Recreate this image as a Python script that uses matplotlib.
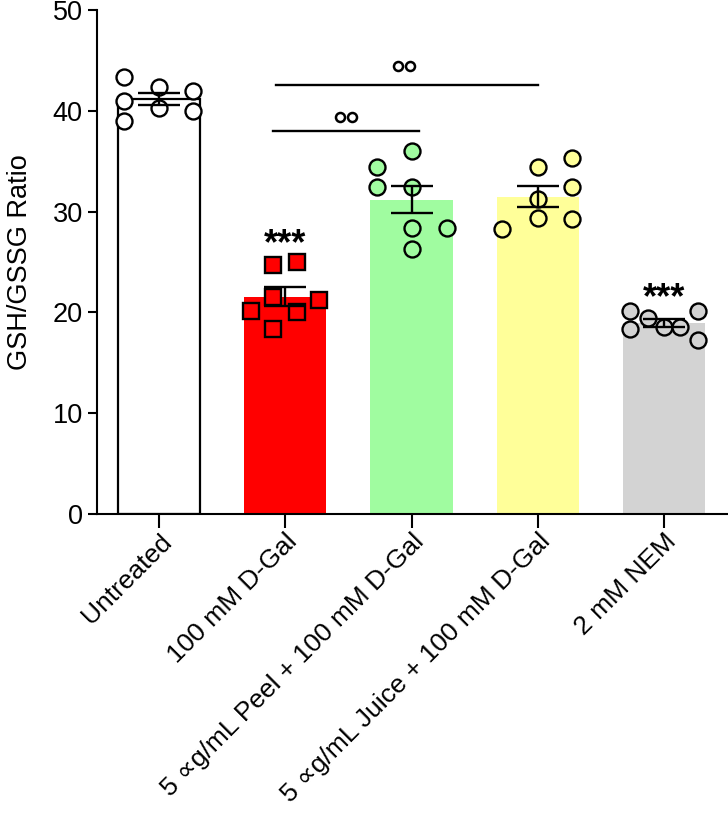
import numpy as np
import matplotlib
matplotlib.use('Agg')
import matplotlib.pyplot as plt

plt.rcParams['font.family'] = ['Liberation Sans', 'DejaVu Sans']

# groups and the individual replicate values
groups = ['Untreated', '100 mM D-Gal', '5 \u221dg/mL Peel + 100 mM D-Gal',
          '5 \u221dg/mL Juice + 100 mM D-Gal', '2 mM NEM']
untreated = [43.4, 41.0, 39.0, 42.4, 40.3, 42.0, 40.0]
dgal = [24.7, 25.0, 21.5, 20.1, 18.4, 20.0, 21.2]
peel = [34.4, 32.4, 36.0, 32.4, 28.4, 26.3, 28.4]
juice = [28.3, 34.4, 31.3, 29.4, 35.3, 32.4, 29.3]
nem = [20.1, 18.4, 19.4, 18.6, 18.6, 20.1, 17.3]
colors = ['white', '#ff0000', '#a0fca0', '#ffff99', '#d3d3d3']
markers = ['o', 's', 'o', 'o', 'o']

# horizontal spread of the dots inside each bar
spread = [[-0.28, -0.28, -0.28, 0.0, 0.0, 0.27, 0.27],
          [-0.1, 0.09, -0.1, -0.27, -0.1, 0.09, 0.27],
          [-0.27, -0.27, 0.0, 0.0, 0.0, 0.0, 0.28],
          [-0.28, 0.0, 0.0, 0.0, 0.27, 0.27, 0.27],
          [-0.27, -0.27, -0.13, 0.0, 0.13, 0.27, 0.27]]

data = [untreated, dgal, peel, juice, nem]
means = [np.mean(d) for d in data]
sems = [np.std(d, ddof=1) / np.sqrt(len(d)) for d in data]

fig = plt.figure(figsize=(7.28, 8.15), dpi=100)
ax = fig.add_axes([0.1328, 0.3693, 0.8672, 0.6184])

x = np.arange(len(groups))
for i in range(len(groups)):
    if i == 0:
        ax.bar(x[i], means[i], width=0.65, color=colors[i], edgecolor='black', linewidth=1.6, zorder=1)
    else:
        ax.bar(x[i], means[i], width=0.65, color=colors[i], linewidth=0, zorder=1)
    ax.plot(x[i] + np.array(spread[i]), data[i], linestyle='none', marker=markers[i],
            markersize=11.5, markerfacecolor=colors[i], markeredgecolor='black',
            markeredgewidth=1.7, zorder=2)
    ax.errorbar(x[i], means[i], yerr=sems[i], color='black', capsize=15,
                elinewidth=1.7, capthick=1.7, zorder=3)

# significance marks
ax.text(x[1], 26.7, '***', ha='center', va='center', fontsize=26, fontweight='bold')
ax.text(x[4], 21.4, '***', ha='center', va='center', fontsize=26, fontweight='bold')
ax.plot([0.9, 2.06], [38.0, 38.0], color='black', linewidth=1.7)
ax.plot([0.93, 3.0], [42.6, 42.6], color='black', linewidth=1.7)
ax.plot([1.43, 1.53], [39.4, 39.4], linestyle='none', marker='o', markersize=6.5,
        markerfacecolor='white', markeredgecolor='black', markeredgewidth=1.8)
ax.plot([1.89, 1.99], [44.4, 44.4], linestyle='none', marker='o', markersize=6.5,
        markerfacecolor='white', markeredgecolor='black', markeredgewidth=1.8)

ax.set_xlim(-0.494, 4.507)
ax.set_ylim(0, 50)
ax.set_yticks([0, 10, 20, 30, 40, 50])
ax.set_xticks(x)
ax.set_xticklabels(groups, rotation=45, ha='right', va='top', rotation_mode='anchor')
ax.set_ylabel('GSH/GSSG Ratio', fontsize=19.5, labelpad=14)
ax.tick_params(axis='y', labelsize=19.5, length=6.5, width=1.5)
ax.tick_params(axis='x', labelsize=19, length=10, width=1.5, pad=1)
ax.spines['top'].set_visible(False)
ax.spines['right'].set_visible(False)
ax.spines['left'].set_linewidth(1.5)
ax.spines['bottom'].set_linewidth(1.5)

plt.savefig('out.png', dpi=100)
